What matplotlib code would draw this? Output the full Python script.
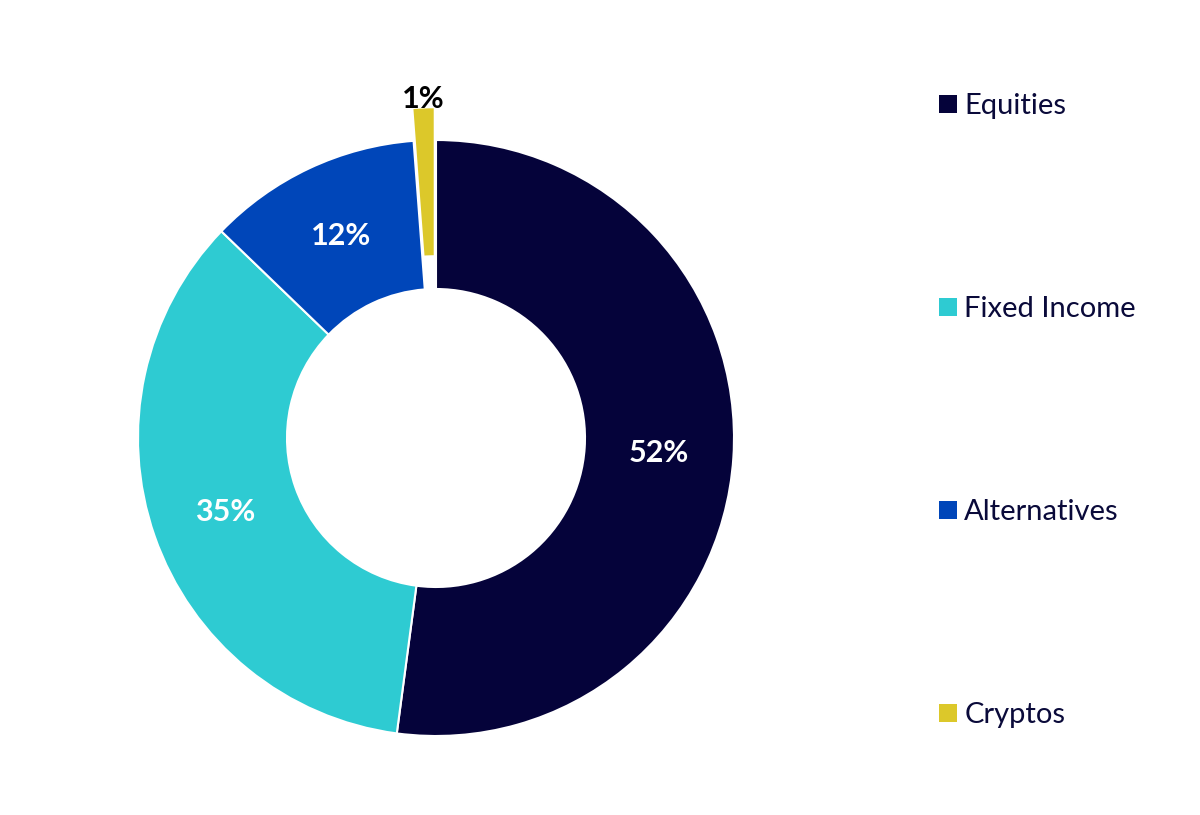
import matplotlib.pyplot as plt
import numpy as np

plt.rcParams['font.family'] = ['Lato', 'DejaVu Sans']

categories = ['Equities', 'Fixed Income', 'Alternatives', 'Cryptos']
# underlying shares; labels show rounded values
shares = [52.1, 35.1, 11.6, 1.2]
colors = ['#05033a', '#2ecbd2', '#0046b9', '#dcc82a']
explode = [0, 0, 0, 0.11]

fig = plt.figure(figsize=(12, 8.15), dpi=100)
ax = fig.add_axes([0, 0, 1, 1])

wedges, _ = ax.pie(shares, colors=colors, explode=explode, startangle=90,
                   counterclock=False, radius=1,
                   wedgeprops=dict(width=0.5, edgecolor='white', linewidth=1.5))

# percent labels
for w, v in zip(wedges, shares):
    ang = np.deg2rad((w.theta1 + w.theta2) / 2)
    if v < 5:
        r, c = 1.14, 'black'
    else:
        r, c = 0.75, 'white'
    ax.text(r * np.cos(ang), r * np.sin(ang), f'{v:.0f}%', ha='center', va='center',
            color=c, fontsize=22, fontweight='bold')

# center at (436, 438) px, radius ~298 px
ax.set_xlim(-436 / 298, (1200 - 436) / 298)
ax.set_ylim(-(815 - 438) / 298, 438 / 298)
ax.set_aspect('equal')
ax.axis('off')

leg = fig.legend(wedges, categories, loc='upper left', bbox_to_anchor=(0.761, 0.918),
                 frameon=False, fontsize=21, handlelength=0.6, handleheight=0.6,
                 handletextpad=0.25, labelspacing=6.07, labelcolor='#0a0a3a')
for h in leg.legend_handles:
    h.set_edgecolor('none')

fig.savefig('out.png', dpi=100)
